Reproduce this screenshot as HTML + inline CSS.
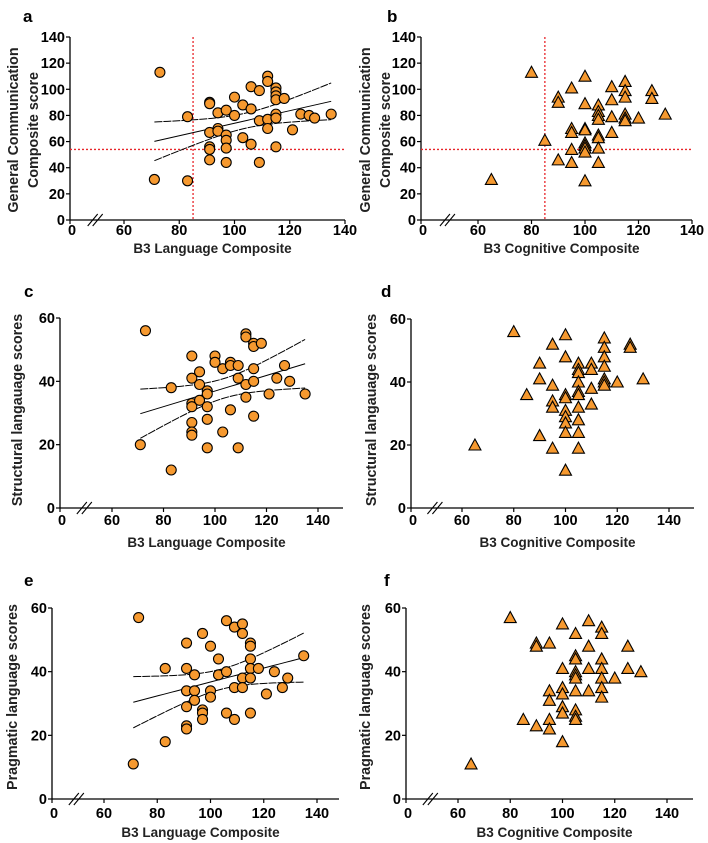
<!DOCTYPE html>
<html><head><meta charset="utf-8"><style>
body{margin:0;background:#fff;}
svg{display:block;font-family:"Liberation Sans",Arial,sans-serif;font-weight:bold;}
</style></head><body>
<svg id="fig" width="708" height="843" viewBox="0 0 708 843" xmlns="http://www.w3.org/2000/svg"></svg>
<script>
const aX=[71,73,83,83,91,91,91,91,91,91,94,94,94,97,97,97,97,97,100,100,103,103,106,106,106,109,109,109,112,112,112,112,115,115,115,115,115,115,115,118,121,124,127,129,135];
const aY=[31,113,79,30,90,89,67,56,54,46,82,70,68,84,65,61,55,44,94,80,88,63,102,85,58,99,76,44,110,106,77,70,101,98,95,92,81,78,56,93,69,81,80,78,81];
const bX=[65,80,85,90,90,90,95,95,95,95,95,100,100,100,100,100,100,100,100,100,105,105,105,105,105,105,105,105,110,110,110,110,115,115,115,115,115,115,120,125,125,130];
const bY=[31,113,61,94,90,46,101,70,67,54,44,110,89,70,69,59,57,55,52,30,88,83,80,77,65,63,55,44,102,92,79,67,106,99,94,81,78,76,78,99,93,81];
const cX=[71,73,83,83,91,91,91,91,91,91,91,94,94,94,97,97,97,97,97,100,100,103,103,106,106,106,109,109,109,112,112,112,112,115,115,115,115,115,118,121,124,127,129,135];
const cY=[20,56,38,12,48,41,33,32,27,24,23,43,39,34,37,36,32,28,19,48,46,44,24,46,45,31,45,41,19,55,54,39,35,52,51,44,40,29,52,36,41,45,40,36];
const dX=[65,80,85,90,90,90,95,95,95,95,95,100,100,100,100,100,100,100,100,100,105,105,105,105,105,105,105,105,105,105,110,110,110,110,115,115,115,115,115,115,115,120,125,125,130];
const dY=[20,56,36,46,41,23,52,39,34,32,19,55,48,36,35,31,29,27,24,12,46,44,43,40,37,36,32,28,24,19,46,44,38,33,54,51,48,45,41,40,39,40,52,51,41];
const eX=[71,73,83,83,91,91,91,91,91,91,94,94,94,97,97,97,97,100,100,100,103,103,106,106,106,109,109,109,112,112,112,112,115,115,115,115,115,115,118,121,124,127,129,135];
const eY=[11,57,41,18,49,41,34,29,23,22,39,34,31,52,28,27,25,48,34,32,44,39,56,40,27,54,35,25,55,52,38,35,49,48,44,41,38,27,41,33,40,35,38,45];
const fX=[65,80,85,90,90,90,95,95,95,95,95,100,100,100,100,100,100,100,105,105,105,105,105,105,105,105,105,105,110,110,110,110,115,115,115,115,115,115,115,120,125,125,130];
const fY=[11,57,25,49,48,23,49,34,31,25,22,55,41,35,33,29,27,18,52,45,44,40,39,38,34,28,26,25,56,48,41,34,54,52,44,41,38,35,32,38,48,41,40];
const xTicks=[60,80,100,120,140];
const yTicksTall=[0,20,40,60,80,100,120,140];
const yTicksShort=[0,20,40,60];

const NS="http://www.w3.org/2000/svg";
const svg=document.getElementById('fig');
function mk(tag,attrs,parent){const e=document.createElementNS(NS,tag);for(const k in attrs)e.setAttribute(k,attrs[k]);(parent||svg).appendChild(e);return e;}

const panels=[
 {id:'a',xs:aX,ys:aY,ax:70,x60:124,x140:345,xEnd:345,y0:220,yTop:37,yMax:140,yt:yTicksTall,tri:false,fit:true,ref:true,lx:23,ly:8,ytitle:['General Communication','Composite score'],ytx:[13,33],yty:130,xtitle:'B3 Language Composite',xty:253,tk:15},
 {id:'b',xs:bX,ys:bY,ax:421,x60:478,x140:692,xEnd:692,y0:220,yTop:37,yMax:140,yt:yTicksTall,tri:true,fit:false,ref:true,lx:387,ly:8,ytitle:['General Communication','Composite score'],ytx:[365,385],yty:130,xtitle:'B3 Cognitive Composite',xty:253,tk:15},
 {id:'c',xs:cX,ys:cY,ax:60,x60:112,x140:318,xEnd:343,y0:508,yTop:318,yMax:60,yt:yTicksShort,tri:false,fit:true,ref:false,lx:24,ly:283,ytitle:['Structural langauage scores'],ytx:[17],yty:410,xtitle:'B3 Language Composite',xty:547,tk:17},
 {id:'d',xs:dX,ys:dY,ax:411,x60:462,x140:669,xEnd:694,y0:508,yTop:319,yMax:60,yt:yTicksShort,tri:true,fit:false,ref:false,lx:381,ly:283,ytitle:['Structural langauage scores'],ytx:[371],yty:410,xtitle:'B3 Cognitive Composite',xty:547,tk:17},
 {id:'e',xs:eX,ys:eY,ax:52,x60:104,x140:317,xEnd:339,y0:799,yTop:608,yMax:60,yt:yTicksShort,tri:false,fit:true,ref:false,lx:24,ly:572,ytitle:['Pragmatic language scores'],ytx:[12],yty:697,xtitle:'B3 Language Composite',xty:837,tk:19},
 {id:'f',xs:fX,ys:fY,ax:406,x60:458,x140:667,xEnd:693,y0:799,yTop:608,yMax:60,yt:yTicksShort,tri:true,fit:false,ref:false,lx:384,ly:572,ytitle:['Pragmatic language scores'],ytx:[365],yty:697,xtitle:'B3 Cognitive Composite',xty:837,tk:19}
];

panels.forEach(p=>{
 const g=mk('g',{});
 
 
 const sx=v=>p.x60+(v-60)*(p.x140-p.x60)/80;
 const sy=v=>p.y0-(v)*(p.y0-p.yTop)/p.yMax;
 const lab=mk('text',{x:p.lx,y:p.ly+14,'font-size':17,fill:'#000'},g);lab.textContent=p.id;
 
 
 const ya=mk('line',{x1:p.ax,y1:p.yTop,x2:p.ax,y2:p.y0,stroke:'#000','stroke-width':1.3},g);
 
 
 const xa=mk('line',{x1:p.ax,y1:p.y0,x2:p.xEnd,y2:p.y0,stroke:'#000','stroke-width':1.3},g);
 
 
 const bx=p.ax+(p.x60-p.ax)*0.42;
 [0,5].forEach(o=>{const br=mk('line',{x1:bx+o-5,y1:p.y0+6,x2:bx+o+5,y2:p.y0-6,stroke:'#000','stroke-width':1.1},g);
  
  });
 p.yt.forEach(t=>{mk('line',{x1:p.ax-4,y1:sy(t),x2:p.ax,y2:sy(t),stroke:'#000','stroke-width':1.2},g);
  const tl=mk('text',{x:p.ax-5,y:sy(t)+5,'font-size':14.5,'text-anchor':'end',fill:'#000'},g);tl.textContent=t;
  
  });
 mk('line',{x1:p.ax,y1:p.y0,x2:p.ax,y2:p.y0+4,stroke:'#000','stroke-width':1.2},g);
 const z=mk('text',{x:p.ax+2,y:p.y0+p.tk,'font-size':14.5,'text-anchor':'middle',fill:'#000'},g);z.textContent='0';
 
 
 xTicks.forEach(t=>{mk('line',{x1:sx(t),y1:p.y0,x2:sx(t),y2:p.y0+4,stroke:'#000','stroke-width':1.2},g);
  const tl=mk('text',{x:sx(t),y:p.y0+p.tk,'font-size':14.5,'text-anchor':'middle',fill:'#000'},g);tl.textContent=t;
  
  });
 const xt=mk('text',{x:(p.ax+p.xEnd)/2+5,y:p.xty,'font-size':13.5,'text-anchor':'middle',fill:'#222'},g);xt.textContent=p.xtitle;
 
 
 p.ytitle.forEach((s,i)=>{const t=mk('text',{x:0,y:0,'font-size':14.3,'text-anchor':'middle',fill:'#222',transform:`translate(${p.ytx[i]+5},${p.yty}) rotate(-90)`},g);t.textContent=s;
  
  });
 if(p.ref){
  const r1=mk('line',{x1:sx(85),y1:p.yTop,x2:sx(85),y2:p.y0,stroke:'#e8262a','stroke-width':1.3,'stroke-dasharray':'2,2'},g);
  
  
  const r2=mk('line',{x1:p.ax,y1:sy(54),x2:p.xEnd,y2:sy(54),stroke:'#e8262a','stroke-width':1.3,'stroke-dasharray':'2,2'},g);
  
  
 }
 if(p.fit){
  const n=p.xs.length,mx=p.xs.reduce((a,b)=>a+b)/n,my=p.ys.reduce((a,b)=>a+b)/n;
  let sxx=0,sxy=0;p.xs.forEach((x,i)=>{sxx+=(x-mx)**2;sxy+=(x-mx)*(p.ys[i]-my);});
  const b=sxy/sxx,a=my-b*mx;let sse=0;p.xs.forEach((x,i)=>{sse+=(p.ys[i]-a-b*x)**2;});
  const s=Math.sqrt(sse/(n-2)),tc=2.02;
  const x0=Math.min(...p.xs),x1=Math.max(...p.xs);
  const pts=[[],[],[]];
  for(let k=0;k<=40;k++){const x=x0+(x1-x0)*k/40,yh=a+b*x,h=tc*s*Math.sqrt(1/n+(x-mx)**2/sxx);
   pts[0].push(sx(x)+','+sy(yh));pts[1].push(sx(x)+','+sy(yh+h));pts[2].push(sx(x)+','+sy(yh-h));}
  ['fit-line','ci-upper','ci-lower'].forEach((nm,i)=>{const l=mk('polyline',{points:pts[i].join(' '),fill:'none',stroke:'#000','stroke-width':1,'stroke-dasharray':i?'8,1':'none'},g);
   
   });
 }
 p.xs.forEach((x,i)=>{const cx=sx(x),cy=sy(p.ys[i]);let m;
  if(p.tri){m=mk('polygon',{points:`${cx},${cy-6} ${cx-6},${cy+5} ${cx+6},${cy+5}`,fill:'#f6992f',stroke:'#000','stroke-width':1.1},g);}
  else{m=mk('circle',{cx:cx,cy:cy,r:5,fill:'#f6992f',stroke:'#000','stroke-width':1.1},g);}
  
  });
});
</script>
</body></html>
